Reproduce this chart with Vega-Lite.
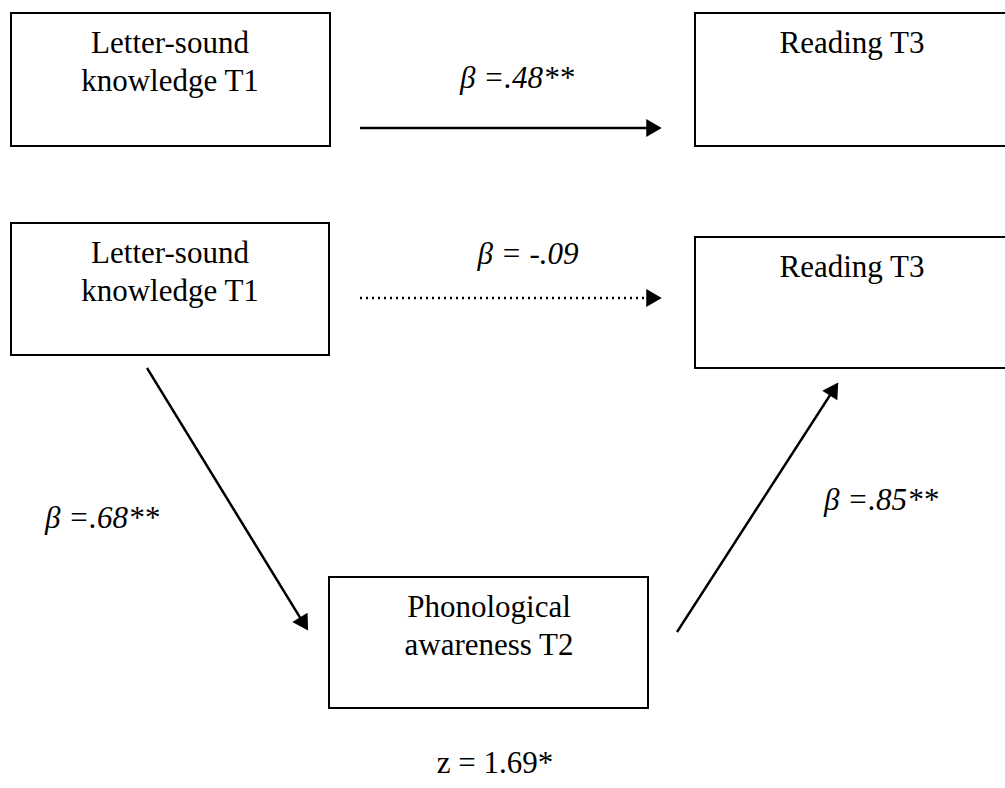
{
  "$schema": "https://vega.github.io/schema/vega-lite/v6.json",
  "width": 1005,
  "height": 788,
  "autosize": {"type": "none"},
  "padding": 0,
  "background": "white",
  "config": {"view": {"stroke": null}},
  "datasets": {
    "boxes": [
      {"box": "Letter-sound knowledge T1 (a)", "x1": 11, "x2": 330, "y1": 13, "y2": 146},
      {"box": "Reading T3 (a)", "x1": 695, "x2": 1015, "y1": 13, "y2": 146},
      {"box": "Letter-sound knowledge T1 (b)", "x1": 11, "x2": 329, "y1": 223, "y2": 355},
      {"box": "Reading T3 (b)", "x1": 695, "x2": 1015, "y1": 237, "y2": 368},
      {"box": "Phonological awareness T2", "x1": 329, "x2": 648, "y1": 577, "y2": 708}
    ],
    "labels": [
      {"text": "Letter-sound", "x": 170, "y": 53},
      {"text": "knowledge T1", "x": 170, "y": 91},
      {"text": "Reading T3", "x": 852, "y": 53},
      {"text": "Letter-sound", "x": 170, "y": 263},
      {"text": "knowledge T1", "x": 170, "y": 301},
      {"text": "Reading T3", "x": 852, "y": 277},
      {"text": "Phonological", "x": 489, "y": 617},
      {"text": "awareness T2", "x": 489, "y": 655},
      {"text": "z = 1.69*", "x": 495, "y": 773}
    ],
    "coefs": [
      {"text": "β =.48**", "x": 517, "y": 88},
      {"text": "β = -.09", "x": 528, "y": 264},
      {"text": "β =.68**", "x": 102, "y": 528},
      {"text": "β =.85**", "x": 881, "y": 510}
    ],
    "edges": [
      {"edge": "a", "path": "direct", "x": 360, "y": 128, "x2": 654, "y2": 128},
      {"edge": "b", "path": "direct (controlled)", "x": 360, "y": 298, "x2": 654, "y2": 298},
      {"edge": "c", "path": "indirect", "x": 147, "y": 368, "x2": 304, "y2": 624},
      {"edge": "d", "path": "indirect", "x": 677, "y": 632, "x2": 834, "y2": 389}
    ]
  },
  "layer": [
    {
      "data": {"name": "boxes"},
      "mark": {"type": "rect", "fill": "transparent", "stroke": "black", "strokeWidth": 2, "clip": true},
      "encoding": {
        "x": {"field": "x1", "type": "quantitative", "scale": {"domain": [0, 1005], "nice": false, "zero": false}, "axis": null},
        "x2": {"field": "x2"},
        "y": {"field": "y1", "type": "quantitative", "scale": {"domain": [0, 788], "nice": false, "zero": false, "reverse": true}, "axis": null},
        "y2": {"field": "y2"}
      }
    },
    {
      "data": {"name": "edges"},
      "mark": {"type": "rule", "color": "black", "strokeWidth": 2.5},
      "encoding": {
        "x": {"field": "x", "type": "quantitative"},
        "x2": {"field": "x2"},
        "y": {"field": "y", "type": "quantitative"},
        "y2": {"field": "y2"},
        "strokeDash": {"field": "path", "type": "nominal", "scale": {"domain": ["direct", "direct (controlled)", "indirect"], "range": [[1, 0], [2, 4], [1, 0]]}, "legend": null}
      }
    },
    {
      "data": {"name": "edges"},
      "transform": [{"filter": "datum.edge === 'a' || datum.edge === 'b'"}],
      "mark": {"type": "point", "shape": "triangle-right", "filled": true, "color": "black", "size": 320, "opacity": 1},
      "encoding": {
        "x": {"field": "x2", "type": "quantitative"},
        "y": {"field": "y2", "type": "quantitative"}
      }
    },
    {
      "data": {"name": "edges"},
      "transform": [{"filter": "datum.edge === 'c'"}],
      "mark": {"type": "point", "shape": "triangle-right", "filled": true, "color": "black", "size": 320, "opacity": 1, "angle": 58.4},
      "encoding": {
        "x": {"field": "x2", "type": "quantitative"},
        "y": {"field": "y2", "type": "quantitative"}
      }
    },
    {
      "data": {"name": "edges"},
      "transform": [{"filter": "datum.edge === 'd'"}],
      "mark": {"type": "point", "shape": "triangle-right", "filled": true, "color": "black", "size": 320, "opacity": 1, "angle": 302.9},
      "encoding": {
        "x": {"field": "x2", "type": "quantitative"},
        "y": {"field": "y2", "type": "quantitative"}
      }
    },
    {
      "data": {"name": "labels"},
      "mark": {"type": "text", "font": "Times New Roman", "fontSize": 31, "color": "black", "align": "center", "baseline": "alphabetic"},
      "encoding": {
        "x": {"field": "x", "type": "quantitative"},
        "y": {"field": "y", "type": "quantitative"},
        "text": {"field": "text"}
      }
    },
    {
      "data": {"name": "coefs"},
      "mark": {"type": "text", "font": "Times New Roman", "fontSize": 31, "fontStyle": "italic", "color": "black", "align": "center", "baseline": "alphabetic"},
      "encoding": {
        "x": {"field": "x", "type": "quantitative"},
        "y": {"field": "y", "type": "quantitative"},
        "text": {"field": "text"}
      }
    }
  ]
}
